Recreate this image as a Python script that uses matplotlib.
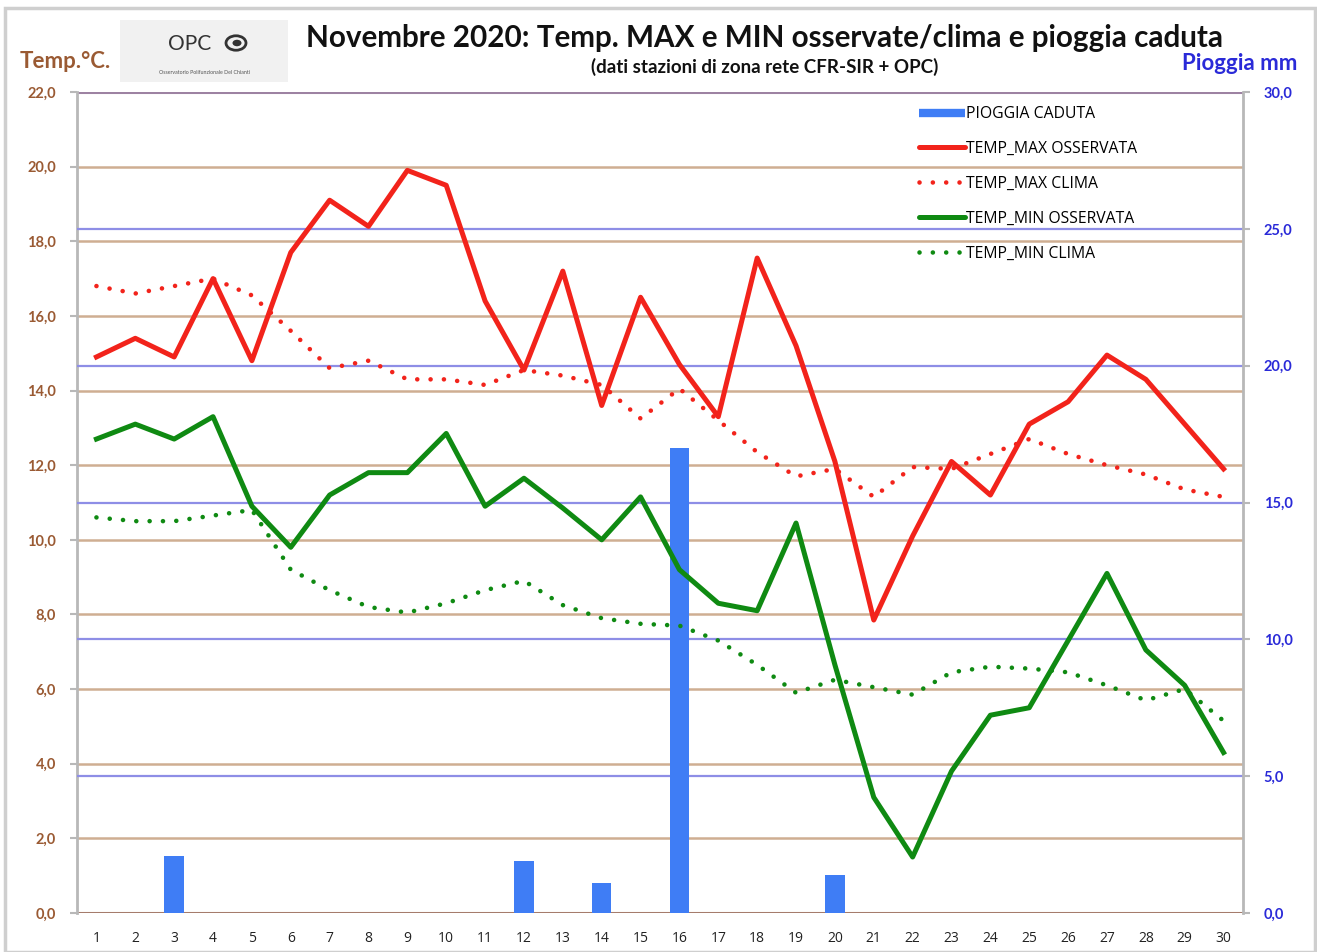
import matplotlib
matplotlib.use("Agg")
import matplotlib.pyplot as plt
from matplotlib.lines import Line2D
from matplotlib.patches import Rectangle, Circle

plt.rcParams['font.family'] = ['Lato', 'DejaVu Sans']

days = list(range(1, 31))
temp_max_obs = [14.9, 15.4, 14.9, 17.0, 14.8, 17.7, 19.1, 18.4, 19.9, 19.5,
                16.4, 14.55, 17.2, 13.6, 16.5, 14.7, 13.3, 17.55, 15.2, 12.1,
                7.85, 10.1, 12.1, 11.2, 13.1, 13.7, 14.95, 14.3, 13.1, 11.9]
temp_max_clima = [16.8, 16.6, 16.8, 17.0, 16.55, 15.6, 14.6, 14.8, 14.3, 14.3,
                  14.15, 14.55, 14.4, 14.15, 13.25, 14.05, 13.2, 12.35, 11.7, 11.9,
                  11.15, 11.95, 11.9, 12.3, 12.7, 12.3, 12.0, 11.75, 11.35, 11.15]
temp_min_obs = [12.7, 13.1, 12.7, 13.3, 10.9, 9.8, 11.2, 11.8, 11.8, 12.85,
                10.9, 11.65, 10.85, 10.0, 11.15, 9.2, 8.3, 8.1, 10.45, 6.65,
                3.1, 1.5, 3.8, 5.3, 5.5, 7.3, 9.1, 7.05, 6.1, 4.3]
temp_min_clima = [10.6, 10.5, 10.5, 10.65, 10.8, 9.2, 8.65, 8.2, 8.05, 8.3,
                  8.65, 8.9, 8.25, 7.9, 7.75, 7.7, 7.3, 6.65, 5.9, 6.25,
                  6.05, 5.85, 6.45, 6.6, 6.55, 6.45, 6.1, 5.7, 6.0, 5.15]
rain_mm = [0, 0, 2.1, 0, 0, 0, 0, 0, 0, 0,
           0, 1.9, 0, 1.1, 0, 17.0, 0, 0, 0, 1.4,
           0, 0, 0, 0, 0, 0, 0, 0, 0, 0]

temp_ticks = list(range(0, 23, 2))
rain_ticks = list(range(0, 31, 5))

W, H = 1317, 952
fig = plt.figure(figsize=(W / 100, H / 100), dpi=100)

# outer frame
fig.patches.append(Rectangle((5 / W, 0), 1 - 5 / W - 2 / W, 1 - 8 / H, transform=fig.transFigure,
                             fill=False, edgecolor='#cfcfcf', linewidth=2.5))

x0, x1 = 77, 1243
y_top, y_bot = 92, 913
rect = [x0 / W, 1 - y_bot / H, (x1 - x0) / W, (y_bot - y_top) / H]

ax_t = fig.add_axes(rect)
ax_r = ax_t.twinx()
ax_l = ax_t.twinx()

ax_t.set_xlim(0.5, 30.5)
ax_r.patch.set_visible(False)
ax_l.patch.set_visible(False)
ax_t.patch.set_facecolor('white')

ax_t.set_ylim(0, 22)
ax_l.set_ylim(0, 22)
ax_r.set_ylim(0, 30)

# temperature gridlines
for t in temp_ticks[1:-1]:
    ax_t.axhline(t, color='#cfae92', lw=1.8, zorder=0)
ax_t.axhline(22, color='#9d82a2', lw=2.2, zorder=1)
ax_t.axhline(0, color='#a57c6c', lw=2.2, zorder=1)
# rain gridlines
for r in rain_ticks[1:-1]:
    ax_r.axhline(r, color='#8e8ee6', lw=1.6, zorder=0)

# bars
ax_r.bar(days, rain_mm, width=0.5, color='#3f7df5', zorder=2)

# lines
lw = 3.6
dlw = 3.3
dot = (0, (0.01, 2.9))
ax_l.plot(days, temp_max_obs, color='#f2231b', lw=lw)
ax_l.plot(days, temp_max_clima, color='#f2231b', lw=dlw, linestyle=dot, dash_capstyle='round')
ax_l.plot(days, temp_min_obs, color='#0f8a12', lw=lw)
ax_l.plot(days, temp_min_clima, color='#0f8a12', lw=dlw, linestyle=dot, dash_capstyle='round')

# spines
for a in (ax_t, ax_r, ax_l):
    for s in a.spines.values():
        s.set_visible(False)
ax_t.spines['left'].set_visible(True)
ax_t.spines['left'].set_color('#b8b8b8')
ax_t.spines['left'].set_linewidth(2)
ax_r.spines['right'].set_visible(True)
ax_r.spines['right'].set_color('#b8b8b8')
ax_r.spines['right'].set_linewidth(2)

# ticks
ax_t.set_xticks(days)
ax_t.set_xticklabels([str(d) for d in days], fontsize=10, color='#222222',
                     family=['Open Sans', 'DejaVu Sans'])
ax_t.tick_params(axis='x', length=0, pad=13)
ax_t.set_yticks(temp_ticks)
ax_t.set_yticklabels([f"{t:.1f}".replace('.', ',') for t in temp_ticks],
                     fontsize=10.5, color='#9a5a33', fontweight='bold')
ax_t.tick_params(axis='y', length=5, color='#b8b8b8', width=1.5, pad=10)
ax_r.set_yticks(rain_ticks)
ax_r.set_yticklabels([f"{r:.1f}".replace('.', ',') for r in rain_ticks],
                     fontsize=10.5, color='#2a2ad8', fontweight='bold')
ax_r.tick_params(axis='y', length=5, color='#b8b8b8', width=1.5, pad=10)
ax_l.set_yticks([])
ax_l.tick_params(axis='y', length=0, labelleft=False, labelright=False)

# legend
handles = [Line2D([], [], color='#3f7df5', lw=6, solid_capstyle='butt'),
           Line2D([], [], color='#f2231b', lw=lw, solid_capstyle='round'),
           Line2D([], [], color='#f2231b', lw=dlw, linestyle=dot, dash_capstyle='round'),
           Line2D([], [], color='#0f8a12', lw=lw, solid_capstyle='round'),
           Line2D([], [], color='#0f8a12', lw=dlw, linestyle=dot, dash_capstyle='round')]
labels = ['PIOGGIA CADUTA', 'TEMP_MAX OSSERVATA', 'TEMP_MAX CLIMA', 'TEMP_MIN OSSERVATA', 'TEMP_MIN CLIMA']
fig.legend(handles, labels, loc='upper left', bbox_to_anchor=(905 / W, 1 - 92 / H),
           frameon=False, handlelength=2.9, handletextpad=0.1,
           labelspacing=1.2, prop={'family': ['Open Sans', 'DejaVu Sans'], 'size': 11.3})

# titles
fig.text(765 / W, 1 - 38 / H, 'Novembre 2020: Temp. MAX e MIN osservate/clima e pioggia caduta',
         ha='center', va='center', fontsize=21.3, fontweight='bold', color='#111111')
fig.text(765 / W, 1 - 67 / H, '(dati stazioni di zona rete CFR-SIR + OPC)',
         ha='center', va='center', fontsize=13.5, fontweight='bold', color='#111111')
fig.text(65 / W, 1 - 62 / H, 'Temp.°C.', ha='center', va='center', fontsize=16,
         fontweight='bold', color='#9a5a33')
fig.text(1240 / W, 1 - 64 / H, 'Pioggia mm', ha='center', va='center', fontsize=16,
         fontweight='bold', color='#2a2ad8')

# logo
fig.patches.append(Rectangle((120 / W, 1 - 82 / H), 168 / W, 62 / H, transform=fig.transFigure,
                             facecolor='#f1f1f1', edgecolor='none'))
fig.text(190 / W, 1 - 44 / H, 'OPC', ha='center', va='center', fontsize=15, color='#333333')
fig.patches.append(Circle((236 / W, 1 - 43 / H), 10 / W, transform=fig.transFigure,
                          fill=False, edgecolor='#333333', linewidth=2))
fig.patches.append(Circle((237 / W, 1 - 43 / H), 4.5 / W, transform=fig.transFigure,
                          facecolor='#333333', edgecolor='none'))
fig.text(204 / W, 1 - 72 / H, 'Osservatorio Polifunzionale Del Chianti', ha='center', va='center',
         fontsize=3.8, color='#555555')

fig.savefig('out.png', dpi=100)
